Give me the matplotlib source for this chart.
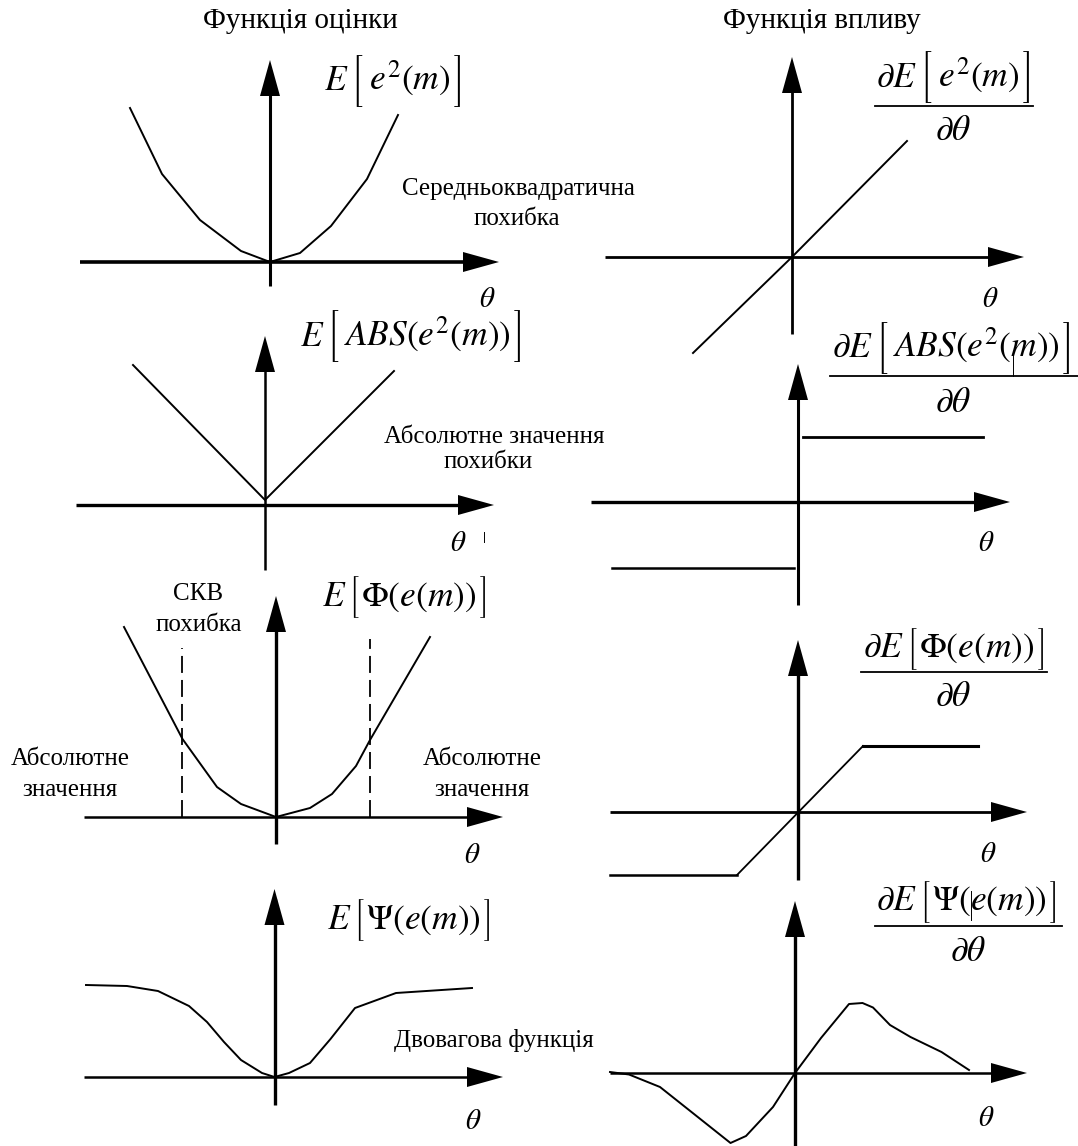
import numpy as np
import matplotlib
matplotlib.use('Agg')
import matplotlib.pyplot as plt
from matplotlib.patches import Polygon

plt.rcParams['font.family'] = ['Liberation Serif', 'DejaVu Serif']
plt.rcParams['mathtext.fontset'] = 'stix'

W, H = 1078, 1146
UNIT = 10.0  # pixels per data unit

# ---------------- text ----------------
col_titles = ['Функція оцінки', 'Функція впливу']
cost_prefix = r'$E$'
infl_prefix = r'$\partial E$'
label_inner = [r'$\,e^{2}(m)\,$',
               r'$\,ABS(e^{2}(m))\,$',
               r'$\Phi(e(m))$',
               r'$\Psi(e(m))$']
infl_denominator = r'$\partial\theta$'
theta_label = r'$\theta$'
note_mse = ['Середньоквадратична', 'похибка']
note_abs = ['Абсолютне значення', 'похибки']
note_huber_mid = ['СКВ', 'похибка']
note_huber_side = ['Абсолютне', 'значення']
note_biweight = 'Двовагова функція'

# ---------------- data (theta, value) ----------------
mse_theta = [-14.0, -10.8, -7.0, -2.9, 0.0, 3.0, 6.1, 9.7, 12.8]
mse_cost = [15.4, 8.8, 4.2, 1.1, 0.0, 0.9, 3.6, 8.3, 14.7]
mse_infl_theta = [-9.9, 0.0, 11.5]
mse_infl = [-9.6, 0.0, 11.6]

abs_theta = [-13.2, 0.0, 12.9]
abs_cost = [14.0, 0.5, 13.4]
abs_infl_pos_theta = [0.5, 18.5]
abs_infl_pos = [6.5, 6.5]
abs_infl_neg_theta = [-18.6, -0.4]
abs_infl_neg = [-6.6, -6.6]

huber_theta = [-15.2, -9.35, -5.9, -3.5, 0.0, 3.4, 5.6, 8.0, 9.4, 15.4]
huber_cost = [19.0, 7.8, 3.0, 1.3, 0.0, 0.9, 2.3, 5.1, 7.7, 18.0]
huber_switch = [-9.35, 9.4]
huber_switch_top = [16.9, 17.8]
huber_infl_theta = [-18.8, -6.1, 6.5, 18.0]
huber_infl = [-6.3, -6.3, 6.6, 6.6]

biw_theta = [-18.85, -14.75, -11.65, -8.55, -6.75, -5.05, -3.35, -1.25, 0.0,
             1.45, 3.55, 5.6, 8.05, 12.15, 19.75]
biw_cost = [9.2, 9.1, 8.6, 7.1, 5.5, 3.5, 1.7, 0.4, 0.0,
            0.4, 1.4, 3.8, 6.9, 8.4, 8.9]
biw_infl_theta = [-18.5, -16.6, -13.5, -10.1, -6.45, -4.9, -2.2, 0.0, 2.6, 5.4,
                  6.75, 7.8, 9.5, 11.55, 14.65, 17.4]
biw_infl = [0.1, -0.15, -1.4, -4.1, -7.0, -6.3, -3.4, 0.0, 3.5, 6.9,
            7.0, 6.55, 4.8, 3.6, 2.1, 0.3]

# ---------------- layout (pixels / units) ----------------
panels = [
    dict(o=(270, 262), h=(-19.0, 22.9), v=(-2.4, 20.2), lw=(2.6, 2.2)),
    dict(o=(792, 257), h=(-18.7, 23.2), v=(-7.7, 20.0), lw=(2.0, 2.0)),
    dict(o=(265, 505), h=(-18.9, 22.9), v=(-6.5, 16.9), lw=(2.4, 1.8)),
    dict(o=(798, 502), h=(-20.7, 21.2), v=(-10.3, 13.8), lw=(2.4, 2.2)),
    dict(o=(276, 817), h=(-19.2, 22.7), v=(-2.7, 22.1), lw=(1.8, 2.4)),
    dict(o=(798, 812), h=(-18.8, 22.9), v=(-6.8, 17.2), lw=(2.0, 2.4)),
    dict(o=(274.5, 1077), h=(-19.05, 22.85), v=(-2.75, 18.8), lw=(1.8, 2.4)),
    dict(o=(795, 1073), h=(-18.5, 23.2), v=(-8.0, 17.2), lw=(1.8, 2.4)),
]
HEAD_L, HEAD_W = 3.6, 1.0

fig = plt.figure(figsize=(W / 100, H / 100), dpi=100)
fig.patch.set_facecolor('white')

base = fig.add_axes([0, 0, 1, 1])
base.set_xlim(0, W)
base.set_ylim(H, 0)
base.set_axis_off()
renderer = fig.canvas.get_renderer()


def panel_axes(p):
    ox, oy = p['o']
    a = fig.add_axes([0, 0, 1, 1])
    a.set_xlim(-ox / UNIT, (W - ox) / UNIT)
    a.set_ylim(-(H - oy) / UNIT, oy / UNIT)
    a.set_axis_off()
    a.patch.set_alpha(0)
    hs, ht = p['h']
    vb, vt = p['v']
    lh, lv = p['lw']
    a.plot([hs, ht - 1.0], [0, 0], color='black', lw=lh, solid_capstyle='butt')
    a.plot([0, 0], [vb, vt - 1.0], color='black', lw=lv, solid_capstyle='butt')
    a.add_patch(Polygon([(ht, 0), (ht - HEAD_L, HEAD_W), (ht - HEAD_L, -HEAD_W)],
                        closed=True, color='black', lw=0))
    a.add_patch(Polygon([(0, vt), (HEAD_W, vt - HEAD_L), (-HEAD_W, vt - HEAD_L)],
                        closed=True, color='black', lw=0))
    return a


axs = [panel_axes(p) for p in panels]
CLW = 1.4

axs[0].plot(mse_theta, mse_cost, color='black', lw=CLW)
axs[1].plot(mse_infl_theta, mse_infl, color='black', lw=CLW)
axs[2].plot(abs_theta, abs_cost, color='black', lw=CLW)
axs[3].plot(abs_infl_pos_theta, abs_infl_pos, color='black', lw=2.0)
axs[3].plot(abs_infl_neg_theta, abs_infl_neg, color='black', lw=1.8)
axs[4].plot(huber_theta, huber_cost, color='black', lw=CLW)
for t, top in zip(huber_switch, huber_switch_top):
    axs[4].plot([t, t], [0, top], color='black', lw=1.3, dashes=[9.4, 3.9])
axs[5].plot(huber_infl_theta[:2], huber_infl[:2], color='black', lw=1.8)
axs[5].plot(huber_infl_theta[1:3], huber_infl[1:3], color='black', lw=1.3)
axs[5].plot(huber_infl_theta[2:], huber_infl[2:], color='black', lw=2.2)
axs[6].plot(biw_theta, biw_cost, color='black', lw=CLW)
axs[7].plot(biw_infl_theta, biw_infl, color='black', lw=CLW)

# ---------------- texts ----------------
TFS, NFS, MFS, THFS = 21, 18, 25.5, 21
BR_FAMILY = 'STIXSizeThreeSym'
BR_FS = [15, 15, 12.5, 12.5]


def compose(x0, y_base, y_br, prefix, inner, row):
    """Write prefix [ inner ] left to right, with tall square brackets."""
    x = x0
    pieces = [('m', prefix), ('g', 3), ('b', '['), ('g', 3), ('m', inner),
              ('g', 3), ('b', ']')]
    for kind, s in pieces:
        if kind == 'g':
            x += s
            continue
        if kind == 'm':
            t = base.text(x, y_base, s, fontsize=MFS, ha='left', va='baseline')
        else:
            t = base.text(x, y_br, s, fontsize=BR_FS[row], family=BR_FAMILY,
                          ha='left', va='center')
        x = t.get_window_extent(renderer).x1
    return x


base.text(300, 21, col_titles[0], fontsize=TFS, ha='center', va='center')
base.text(822, 21, col_titles[1], fontsize=TFS, ha='center', va='center')

cost_pos = [(324, 90, 81), (300, 346, 336), (322, 606, 597), (327, 929, 920)]
for row, ((x, yb, yc), inner) in enumerate(zip(cost_pos, label_inner)):
    compose(x, yb, yc, cost_prefix, inner, row)

num_pos = [(876, 87, 77), (832, 357, 348), (863, 657, 649), (876, 910, 902)]
bars = [(875, 1033, 106), (830, 1078, 376), (861, 1047, 672), (875, 1062, 926)]
den_pos = [(953, 131), (953, 403), (953, 697), (968, 952)]
for row, ((x, yb, yc), inner, (x0, x1, ybar), (dx, dy)) in enumerate(
        zip(num_pos, label_inner, bars, den_pos)):
    compose(x, yb, yc, infl_prefix, inner, row)
    base.plot([x0, x1], [ybar, ybar], color='black', lw=1.3)
    base.text(dx, dy, infl_denominator, fontsize=MFS, ha='center', va='center')

theta_pos = [(487, 300), (990, 300), (458, 544), (986, 544),
             (472, 856), (988, 855), (473, 1122), (986, 1119)]
for x, y in theta_pos:
    base.text(x, y, theta_label, fontsize=THFS, ha='center', va='center')

base.text(518, 189, note_mse[0], fontsize=NFS, ha='center', va='center')
base.text(517, 219, note_mse[1], fontsize=NFS, ha='center', va='center')
base.text(494, 437, note_abs[0], fontsize=NFS, ha='center', va='center')
base.text(488, 462, note_abs[1], fontsize=NFS, ha='center', va='center')
base.text(198, 594, note_huber_mid[0], fontsize=NFS, ha='center', va='center')
base.text(199, 625, note_huber_mid[1], fontsize=NFS, ha='center', va='center')
base.text(70, 759, note_huber_side[0], fontsize=NFS, ha='center', va='center')
base.text(70, 790, note_huber_side[1], fontsize=NFS, ha='center', va='center')
base.text(482, 759, note_huber_side[0], fontsize=NFS, ha='center', va='center')
base.text(482, 790, note_huber_side[1], fontsize=NFS, ha='center', va='center')
base.text(494, 1040, note_biweight, fontsize=NFS, ha='center', va='center')

base.plot([1013, 1013], [351, 376], color='black', lw=0.7)
base.plot([971, 971], [891, 920], color='black', lw=0.7)
base.plot([484, 484], [532, 542], color='black', lw=0.7)

fig.savefig('out.png', dpi=100, facecolor='white')
